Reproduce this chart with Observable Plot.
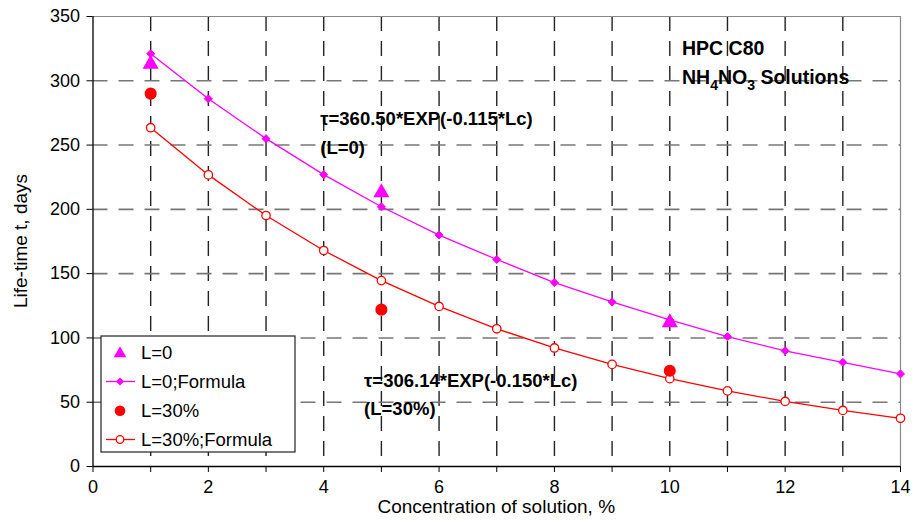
<!DOCTYPE html>
<html>
<head>
<meta charset="utf-8">
<script src="https://cdn.jsdelivr.net/npm/d3@7"></script>
<script src="https://cdn.jsdelivr.net/npm/@observablehq/plot@0.6"></script>
<style>
  html, body { margin: 0; padding: 0; background: #fff; }
  #chart svg { display: block; }
</style>
</head>
<body>
<div id="chart"></div>
<script>
// ---- data ----
const concFormula = [1,2,3,4,5,6,7,8,9,10,11,12,13,14];
const life0Formula = [321,286,255,227,202,180,161,143,128,114,101,90,81,72];
const life30Formula = [263.5,226.8,195.2,168.0,144.6,124.5,107.1,92.2,79.4,68.3,58.8,50.6,43.6,37.5];
const concObserved = [1,5,10];
const life0Observed = [313,213,112];
const life30Observed = [290,122,74.5];
const xTicks = [0,1,2,3,4,5,6,7,8,9,10,11,12,13,14];
const yTicks = [0,50,100,150,200,250,300,350];
const xGrid = [1,2,3,4,5,6,7,8,9,10,11,12,13];
const yGrid = [50,100,150,200,250,300];
const legendLabels = ["L=0","L=0;Formula","L=30%","L=30%;Formula"];
const formula0 = ["\u03C4=360.50*EXP(-0.115*Lc)","(L=0)"];
const formula30 = ["\u03C4=306.14*EXP(-0.150*Lc)","(L=30%)"];

const f0 = concFormula.map((x,i)=>({x, y: life0Formula[i]}));
const f30 = concFormula.map((x,i)=>({x, y: life30Formula[i]}));
const o0 = concObserved.map((x,i)=>({x, y: life0Observed[i]}));
const o30 = concObserved.map((x,i)=>({x, y: life30Observed[i]}));

const MAG = "#ff00ff", RED = "#ff0000";
const W = 913, H = 523;
const mL = 92.5, mR = 13, mT = 16, mB = 57;
const ff = "'Liberation Sans', Arial, sans-serif";

const chart = Plot.plot({
  width: W, height: H,
  marginLeft: mL, marginRight: mR, marginTop: mT, marginBottom: mB,
  style: {fontFamily: ff, fontSize: "18px", color: "#000", background: "#fff", overflow: "visible"},
  x: {domain: [0,14]},
  y: {domain: [0,350]},
  marks: [
    Plot.ruleX(xGrid, {stroke: "#222", strokeWidth: 1.4, strokeDasharray: "15,10"}),
    Plot.ruleY(yGrid, {stroke: "#777", strokeWidth: 1.6, strokeDasharray: "15,11"}),
    Plot.ruleY([350], {stroke: "#888", strokeWidth: 1.2}),
    Plot.ruleX([14], {stroke: "#888", strokeWidth: 1.2}),
    Plot.axisX({ticks: xTicks, tickFormat: d => d % 2 === 0 ? String(d) : "", tickSize: 6, tickPadding: 8, label: null, stroke: "#000", fontSize: 18}),
    Plot.axisY({ticks: yTicks, tickSize: 6, tickPadding: 7, label: null, stroke: "#000", fontSize: 18}),
    Plot.ruleX([0], {stroke: "#000", strokeWidth: 1.3}),
    Plot.ruleY([0], {stroke: "#000", strokeWidth: 1.3}),
    Plot.line(f0, {x: "x", y: "y", stroke: MAG, strokeWidth: 1.3}),
    Plot.dot(f0, {x: "x", y: "y", symbol: "diamond2", r: 3.6, fill: MAG, stroke: MAG, strokeWidth: 1}),
    Plot.line(f30, {x: "x", y: "y", stroke: RED, strokeWidth: 1.3}),
    Plot.dot(f30, {x: "x", y: "y", symbol: "circle", r: 4.2, fill: "#fff", stroke: RED, strokeWidth: 1.3}),
    Plot.dot(o0, {x: "x", y: "y", symbol: "triangle", r: 5, fill: MAG, stroke: MAG}),
    Plot.dot(o30, {x: "x", y: "y", symbol: "circle", r: 5.3, fill: RED, stroke: RED}),
    Plot.text([formula0[0]], {x: 3.94, y: 270.6, text: d => d, textAnchor: "start", fontWeight: "bold", fontSize: 18.5, fontFamily: ff, fill: "#000"}),
    Plot.text([formula0[1]], {x: 3.94, y: 247.8, text: d => d, textAnchor: "start", fontWeight: "bold", fontSize: 18.5, fontFamily: ff, fill: "#000"}),
    Plot.text([formula30[0]], {x: 4.7, y: 66.7, text: d => d, textAnchor: "start", fontWeight: "bold", fontSize: 18.5, fontFamily: ff, fill: "#000"}),
    Plot.text([formula30[1]], {x: 4.7, y: 44.9, text: d => d, textAnchor: "start", fontWeight: "bold", fontSize: 18.5, fontFamily: ff, fill: "#000"})
  ]
});

document.getElementById("chart").appendChild(chart);

const svg = d3.select(chart);
const sx = chart.scale("x"), sy = chart.scale("y");

// Axis titles
svg.append("text")
  .attr("x", (sx.apply(0) + sx.apply(14)) / 2).attr("y", 513)
  .attr("text-anchor", "middle").attr("font-family", ff).attr("font-size", 19)
  .attr("fill", "#000").text("Concentration of solution, %");
svg.append("text")
  .attr("transform", `translate(27,${(sy.apply(0) + sy.apply(350)) / 2}) rotate(-90)`)
  .attr("text-anchor", "middle").attr("font-family", ff).attr("font-size", 19)
  .attr("fill", "#000").text("Life-time t, days");

// Title block
const tx = sx.apply(10.22);
const t1 = svg.append("text").attr("x", tx).attr("y", sy.apply(325)).attr("dy", "0.35em")
  .attr("text-anchor", "start")
  .attr("font-family", ff).attr("font-size", 19.5).attr("font-weight", "bold").attr("fill", "#000");
t1.text("HPC C80");
const t2 = svg.append("text").attr("x", tx).attr("y", sy.apply(302.7)).attr("dy", "0.35em")
  .attr("text-anchor", "start")
  .attr("font-family", ff).attr("font-size", 19.5).attr("font-weight", "bold").attr("fill", "#000");
t2.append("tspan").text("NH");
t2.append("tspan").attr("dy", 6).attr("font-size", 14).text("4");
t2.append("tspan").attr("dy", -6).text("NO");
t2.append("tspan").attr("dy", 6).attr("font-size", 14).text("3");
t2.append("tspan").attr("dy", -6).text(" Solutions");

// Legend
const lx = 101, ly = 336, lw = 194, lh = 116;
const lg = svg.append("g").attr("text-anchor", "start");
lg.append("rect").attr("x", lx).attr("y", ly).attr("width", lw).attr("height", lh)
  .attr("fill", "#fff").attr("stroke", "#222").attr("stroke-width", 1.2);
const rows = [352.5, 381.5, 410.7, 439.5];
const mx = 120;
lg.append("path").attr("d", d3.symbol(d3.symbolTriangle, 70)()).attr("transform", `translate(${mx},${rows[0] + 1})`).attr("fill", MAG);
lg.append("line").attr("x1", 106).attr("x2", 135).attr("y1", rows[1]).attr("y2", rows[1]).attr("stroke", MAG).attr("stroke-width", 1.3);
lg.append("path").attr("d", d3.symbol(d3.symbolDiamond2, 40)()).attr("transform", `translate(${mx},${rows[1]})`).attr("fill", MAG);
lg.append("circle").attr("cx", mx).attr("cy", rows[2]).attr("r", 5.3).attr("fill", RED);
lg.append("line").attr("x1", 106).attr("x2", 135).attr("y1", rows[3]).attr("y2", rows[3]).attr("stroke", RED).attr("stroke-width", 1.3);
lg.append("circle").attr("cx", mx).attr("cy", rows[3]).attr("r", 3.8).attr("fill", "#fff").attr("stroke", RED).attr("stroke-width", 1.3);
legendLabels.forEach((t, i) => {
  lg.append("text").attr("x", 141).attr("y", rows[i]).attr("dy", "0.35em")
    .attr("text-anchor", "start")
    .attr("font-family", ff).attr("font-size", 18.5).attr("fill", "#000").text(t);
});
</script>
</body>
</html>
